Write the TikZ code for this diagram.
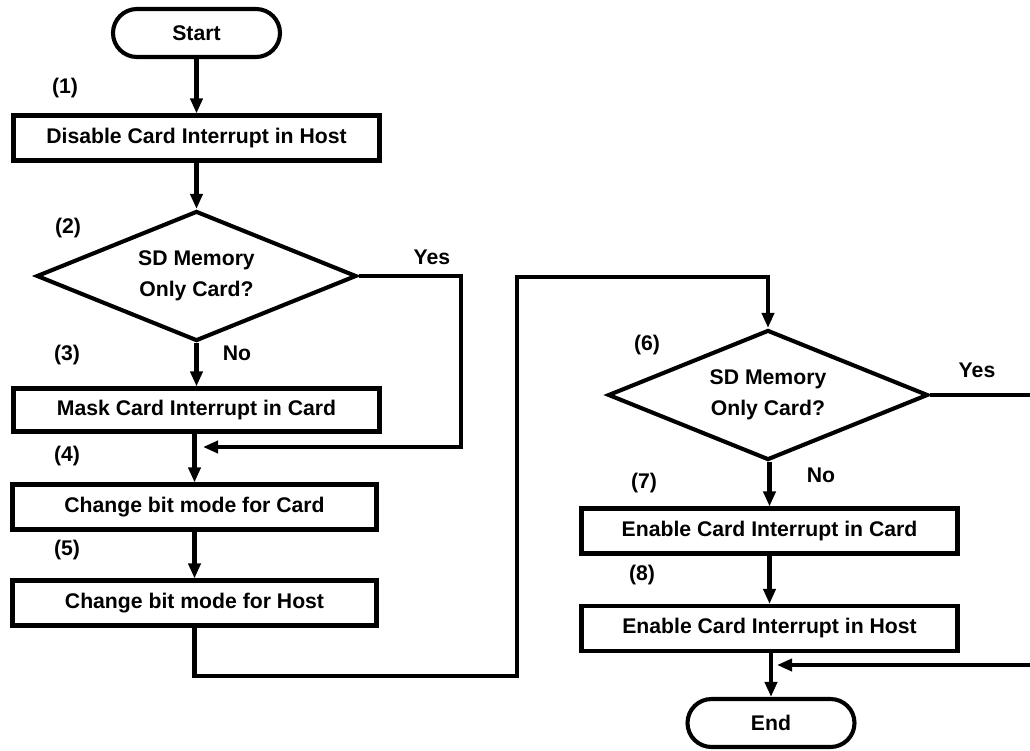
\documentclass[tikz,border=0pt]{standalone}
\usepackage{fontspec}
\setmainfont{Liberation Sans}
\usetikzlibrary{arrows.meta,shapes.geometric}
\tikzset{
  base/.style={draw=black, line width=4.1pt, font=\fontsize{21.2}{31}\selectfont\bfseries, inner sep=0pt, align=center},
  term/.style={base, rectangle, rounded corners=24pt, minimum width=167pt, minimum height=48pt},
  proc/.style={base, rectangle, minimum height=45pt},
  dec/.style={base, diamond, aspect=2.5, minimum width=320pt, minimum height=130pt},
  lbl/.style={font=\fontsize{21.2}{24}\selectfont\bfseries, inner sep=0pt},
  conn/.style={draw=black, line width=4.1pt},
  arr/.style={conn, -{Triangle[length=15pt,width=12pt]}}
}
\begin{document}
\begin{tikzpicture}[x=1pt,y=-1pt]
\useasboundingbox (0,0) rectangle (1030,750);
% left column
\node[term] (start) at (196.5,33) {Start};
\node[proc, minimum width=366pt] (b1) at (196.5,138) {Disable Card Interrupt in Host};
\node[dec] (d2) at (196.5,276) {SD Memory\\Only Card?};
\node[proc, minimum width=366pt, minimum height=43pt] (b3) at (196.5,410) {Mask Card Interrupt in Card};
\node[proc, minimum width=364pt] (b4) at (194.5,507) {Change bit mode for Card};
\node[proc, minimum width=364pt] (b5) at (194.5,603) {Change bit mode for Host};
% right column
\node[dec] (d6) at (768,395) {SD Memory\\Only Card?};
\node[proc, minimum width=376pt] (b7) at (769.5,531) {Enable Card Interrupt in Card};
\node[proc, minimum width=376pt] (b8) at (769.5,628.5) {Enable Card Interrupt in Host};
\node[term] (end) at (771,723) {End};
% labels
\node[lbl] (l1) at (65,88) {(1)};
\node[lbl] (l2) at (68,228) {(2)};
\node[lbl] (l3) at (67,355) {(3)};
\node[lbl] (l4) at (67,456) {(4)};
\node[lbl] (l5) at (67,550) {(5)};
\node[lbl] (l6) at (647,345) {(6)};
\node[lbl] (l7) at (644,483) {(7)};
\node[lbl] (l8) at (642,575) {(8)};
\node[lbl] (y2) at (432,257) {Yes};
\node[lbl] (n2) at (237,353) {No};
\node[lbl] (y6) at (977,370) {Yes};
\node[lbl] (n6) at (821,475) {No};
% coordinates
\coordinate (c1) at (461,447);
\coordinate (m1) at (203,447);
\coordinate (p1) at (194.5,676);
\coordinate (p2) at (517,676);
\coordinate (p3) at (517,277);
\coordinate (p4) at (768,277);
\coordinate (r1) at (1030,395);
\coordinate (r2) at (1030,665);
\coordinate (m2) at (777,665);
% connectors
\draw[arr] (start) -- (b1);
\draw[arr] (b1) -- (d2);
\draw[arr] (d2) -- (b3);
\draw[arr] (b3.south -| b4.north) -- (b4.north);
\draw[arr] (b4) -- (b5);
\draw[arr] (d2.east) -| (c1) -- (m1);
\draw[arr] (b5.south) -- (p1) -- (p2) -- (p3) -- (p4) -- (d6.north);
\draw[arr] (d6.south -| b7.north) -- (b7.north);
\draw[arr] (b7) -- (b8);
\draw[arr] (b8.south -| end.north) -- (end.north);
\draw[conn] (d6.east) -- (r1);
\draw[arr] (r2) -- (m2);
\end{tikzpicture}
\end{document}
